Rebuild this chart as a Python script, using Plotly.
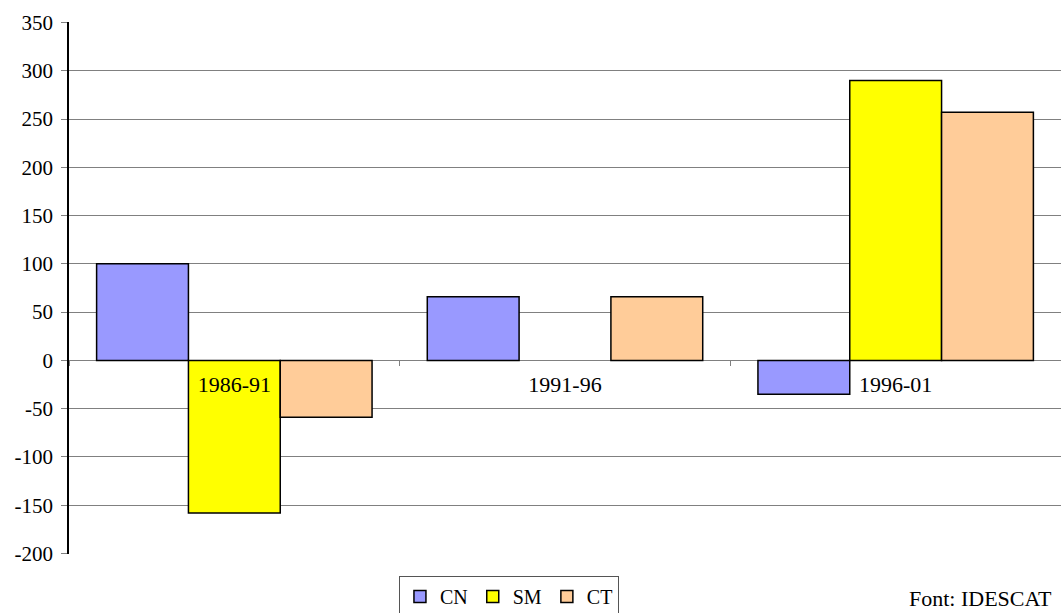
import plotly.graph_objects as go

categories = ["1986-91", "1991-96", "1996-01"]
cn = [100, 66, -35]
sm = [-158, 0, 290]
ct = [-59, 66, 257]
series_names = ["CN", "SM", "CT"]
colors = ["#9999FF", "#FFFF00", "#FFCC99"]
y_tickvals = [-200, -150, -100, -50, 0, 50, 100, 150, 200, 250, 300, 350]
y_ticktext = ["-200", "-150", "-100", "-50", "0", "50", "100", "150", "200", "250", "300", "350"]

fig = go.Figure()
for name, vals, col in zip(series_names, [cn, sm, ct], colors):
    fig.add_trace(go.Bar(
        x=categories, y=vals, name=name,
        marker=dict(color=col, line=dict(color="black",
                                         width=[1.5 if v != 0 else 0 for v in vals])),
    ))

ymin, ymax = -200.6, 350.6
zero_frac = (0 - ymin) / (ymax - ymin)
H, T, B = 613, 22, 59
plot_h = H - T - B

fig.update_layout(
    width=1061, height=H,
    margin=dict(l=69, r=0, t=T, b=B),
    paper_bgcolor="white", plot_bgcolor="white",
    barmode="group", bargap=0.167, bargroupgap=0,
    font=dict(family="Liberation Serif", size=20, color="black"),
    showlegend=True,
    legend=dict(
        orientation="h", x=0.4435, xanchor="center",
        yref="container", y=1 - 576 / H, yanchor="top",
        bordercolor="#555555", borderwidth=1, bgcolor="white",
        font=dict(family="Liberation Serif", size=20, color="black"),
        itemwidth=30, traceorder="normal",
    ),
    xaxis=dict(
        type="category", automargin=False,
        anchor="free", position=zero_frac,
        showline=False, showgrid=False, zeroline=False,
        ticks="outside", tickson="boundaries", ticklen=5, tickcolor="#808080",
        tickfont=dict(family="Liberation Serif", size=22, color="black"),
        ticklabelstandoff=9,
    ),
    yaxis=dict(
        range=[ymin, ymax], automargin=False,
        tickmode="array", tickvals=y_tickvals, ticktext=y_ticktext,
        showline=True, linecolor="black", linewidth=1.5,
        showgrid=True, gridcolor="#808080", gridwidth=1,
        zeroline=True, zerolinecolor="#808080", zerolinewidth=1,
        ticks="outside", ticklen=6, tickcolor="#808080",
        tickfont=dict(family="Liberation Serif", size=21, color="black"),
        ticklabelstandoff=4,
    ),
    annotations=[dict(
        text="Font: IDESCAT", xref="paper", yref="paper",
        x=1.0, xanchor="right", y=-(598 - (H - B)) / plot_h, yanchor="middle",
        xshift=-7, showarrow=False,
        font=dict(family="Liberation Serif", size=22, color="black"),
    )],
)

fig.write_html("out.html", config={"displayModeBar": False},
               post_script="document.body.style.margin='0';")
